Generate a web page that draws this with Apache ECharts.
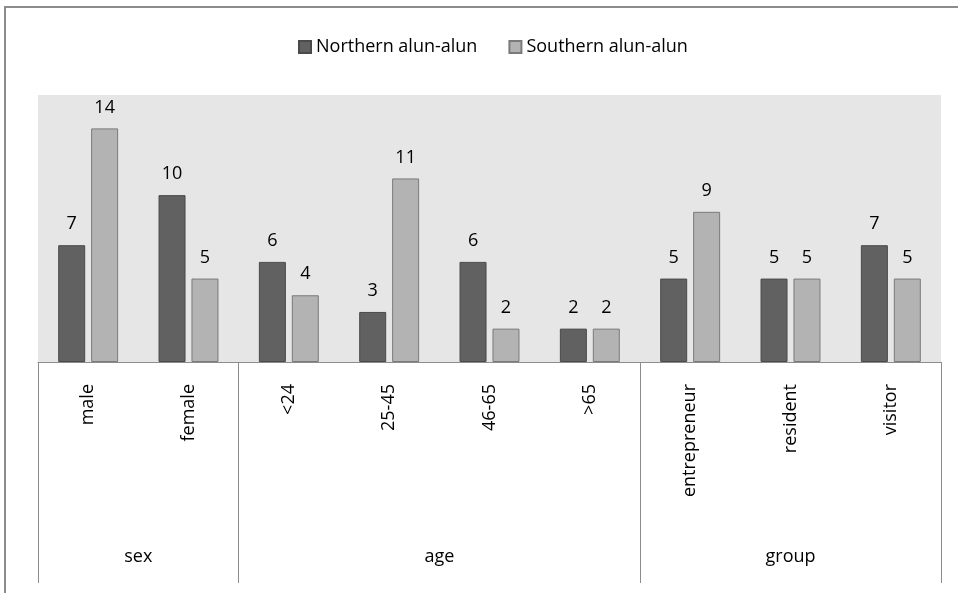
<!DOCTYPE html>
<html>
<head>
<meta charset="utf-8">
<script src="https://cdn.jsdelivr.net/npm/echarts@6/dist/echarts.min.js"></script>
<style>
  html, body { margin: 0; padding: 0; background: #fff; }
  #wrap { position: relative; width: 958px; height: 593px; overflow: hidden; }
  #frame { position: absolute; left: 4px; top: 6px; width: 980px; height: 620px;
           border: 2px solid #8c8c8c; box-sizing: border-box; }
  #chart { position: absolute; left: 0; top: 0; width: 958px; height: 593px; }
</style>
</head>
<body>
<div id="wrap">
  <div id="frame"></div>
  <div id="chart"></div>
</div>
<script>
// Respondent counts per category at the two squares
const categories = ['male', 'female', '<24', '25-45', '46-65', '>65', 'entrepreneur', 'resident', 'visitor'];
const northern = [7, 10, 6, 3, 6, 2, 5, 5, 7];
const southern = [14, 5, 4, 11, 2, 2, 9, 5, 5];
const seriesNames = ['Northern alun-alun', 'Southern alun-alun'];
// Outer level of the category axis: group name and how many categories it spans
const groupNames = ['sex', 'age', 'group'];
const groupSizes = [2, 4, 3];

const FONT = '"Open Sans"';
const INK = '#000';

// boundaries and centres of the groups, in category units
const bounds = [0];
groupSizes.forEach(n => bounds.push(bounds[bounds.length - 1] + n));
const centres = groupNames.map((_, i) => (bounds[i] + bounds[i + 1]) / 2);

const chart = echarts.init(document.getElementById('chart'), null, { renderer: 'canvas' });

const barLabel = {
  show: true, position: 'top', distance: 12,
  color: INK, fontFamily: FONT, fontSize: 18
};

chart.setOption({
  animation: false,
  textStyle: { fontFamily: FONT },
  legend: {
    top: 33, left: 293,
    icon: 'rect',
    itemWidth: 12, itemHeight: 12, itemGap: 31,
    textStyle: { fontFamily: FONT, fontSize: 18, color: INK },
    data: seriesNames
  },
  grid: { left: 38, right: 17, top: 95, bottom: 231, show: true, backgroundColor: '#e6e6e6', borderWidth: 0 },
  xAxis: [
    {
      type: 'category', data: categories, position: 'bottom',
      axisLine: { show: true, lineStyle: { color: '#8c8c8c', width: 1 } },
      axisTick: { show: false },
      axisLabel: { rotate: 90, margin: 22, color: INK, fontFamily: FONT, fontSize: 18, interval: 0 }
    },
    {
      type: 'value', min: 0, max: categories.length, position: 'bottom',
      axisLine: { show: false },
      splitLine: { show: false },
      axisTick: { show: true, customValues: bounds, length: 221, lineStyle: { color: '#8c8c8c', width: 1 } },
      axisLabel: {
        customValues: centres, margin: 186, color: INK, fontFamily: FONT, fontSize: 18,
        formatter: v => groupNames[centres.indexOf(v)] || ''
      }
    }
  ],
  yAxis: {
    type: 'value', min: 0, max: 16, show: false, splitLine: { show: false }
  },
  series: [
    {
      name: seriesNames[0], type: 'bar', data: northern, xAxisIndex: 0,
      barWidth: 27, barGap: '22%',
      itemStyle: { color: '#616161', borderColor: '#4a4a4a', borderWidth: 1 },
      label: barLabel
    },
    {
      name: seriesNames[1], type: 'bar', data: southern, xAxisIndex: 0,
      barWidth: 27,
      itemStyle: { color: '#b3b3b3', borderColor: '#7a7a7a', borderWidth: 1 },
      label: barLabel
    }
  ]
});
</script>
</body>
</html>
